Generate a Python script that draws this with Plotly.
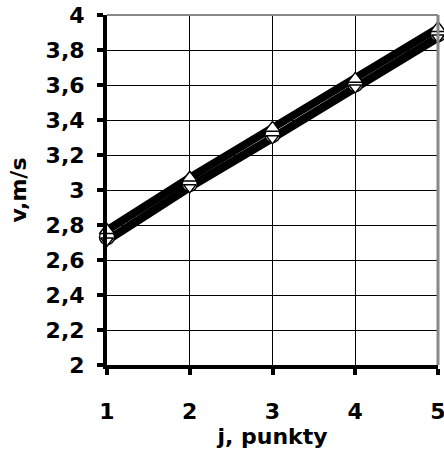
import plotly.graph_objects as go

j_points = [1, 2, 3, 4, 5]
v_tri_up = [2.77, 3.07, 3.355, 3.635, 3.925]
v_circle = [2.73, 3.035, 3.315, 3.605, 3.89]
v_tri_down = [2.71, 3.015, 3.295, 3.585, 3.87]
y_ticks = [2, 2.2, 2.4, 2.6, 2.8, 3, 3.2, 3.4, 3.6, 3.8, 4]

FONT = "DejaVu Sans"
FS = 22

fig = go.Figure()
# lines
for vals, w in [(v_circle, 3), (v_tri_down, 8), (v_tri_up, 8)]:
    fig.add_trace(go.Scatter(
        x=j_points, y=vals, mode="lines",
        line=dict(color="black", width=w),
        showlegend=False, cliponaxis=False, hoverinfo="skip",
    ))
# markers
for vals, sym, size in [(v_circle, "circle", 15),
                        (v_tri_down, "triangle-down", 11),
                        (v_tri_up, "triangle-up", 13)]:
    fig.add_trace(go.Scatter(
        x=j_points, y=vals, mode="markers",
        marker=dict(symbol=sym, size=size, color="white",
                    line=dict(color="black", width=1.5)),
        showlegend=False, cliponaxis=False,
    ))

fig.update_layout(
    width=444, height=456,
    margin=dict(l=107, r=6, t=15, b=91),
    paper_bgcolor="white", plot_bgcolor="white",
    separators=", ",
    font=dict(family=FONT, size=FS, color="black", weight="bold"),
    xaxis=dict(
        range=[1, 5], tickmode="array", tickvals=j_points,
        automargin=False,
        showgrid=True, gridcolor="black", gridwidth=1,
        showline=True, linecolor="black", linewidth=4,
        ticks="outside", ticklen=6, tickwidth=4, tickcolor="black",
        tickfont=dict(family=FONT, size=FS, color="black", weight="bold"),
        ticklabelstandoff=18, ticklabeloverflow="allow",
        title=dict(text="<b>j, punkty</b>", standoff=2,
                   font=dict(family=FONT, size=FS)),
        zeroline=False,
    ),
    yaxis=dict(
        range=[2, 4], tickmode="array", tickvals=y_ticks,
        automargin=False,
        showgrid=True, gridcolor="black", gridwidth=1,
        showline=True, linecolor="black", linewidth=4,
        ticks="outside", ticklen=6, tickwidth=4, tickcolor="black",
        tickfont=dict(family=FONT, size=FS, color="black", weight="bold"),
        ticklabelstandoff=8,
        title=dict(text="<b>v,m/s</b>", standoff=14,
                   font=dict(family=FONT, size=FS)),
        zeroline=False,
    ),
    shapes=[
        dict(type="line", xref="paper", yref="paper", x0=0, x1=1, y0=1, y1=1,
             line=dict(color="#888888", width=2)),
        dict(type="line", xref="paper", yref="paper", x0=1, x1=1, y0=0, y1=1,
             line=dict(color="#888888", width=3)),
    ],
)

fig.write_html("out.html")
